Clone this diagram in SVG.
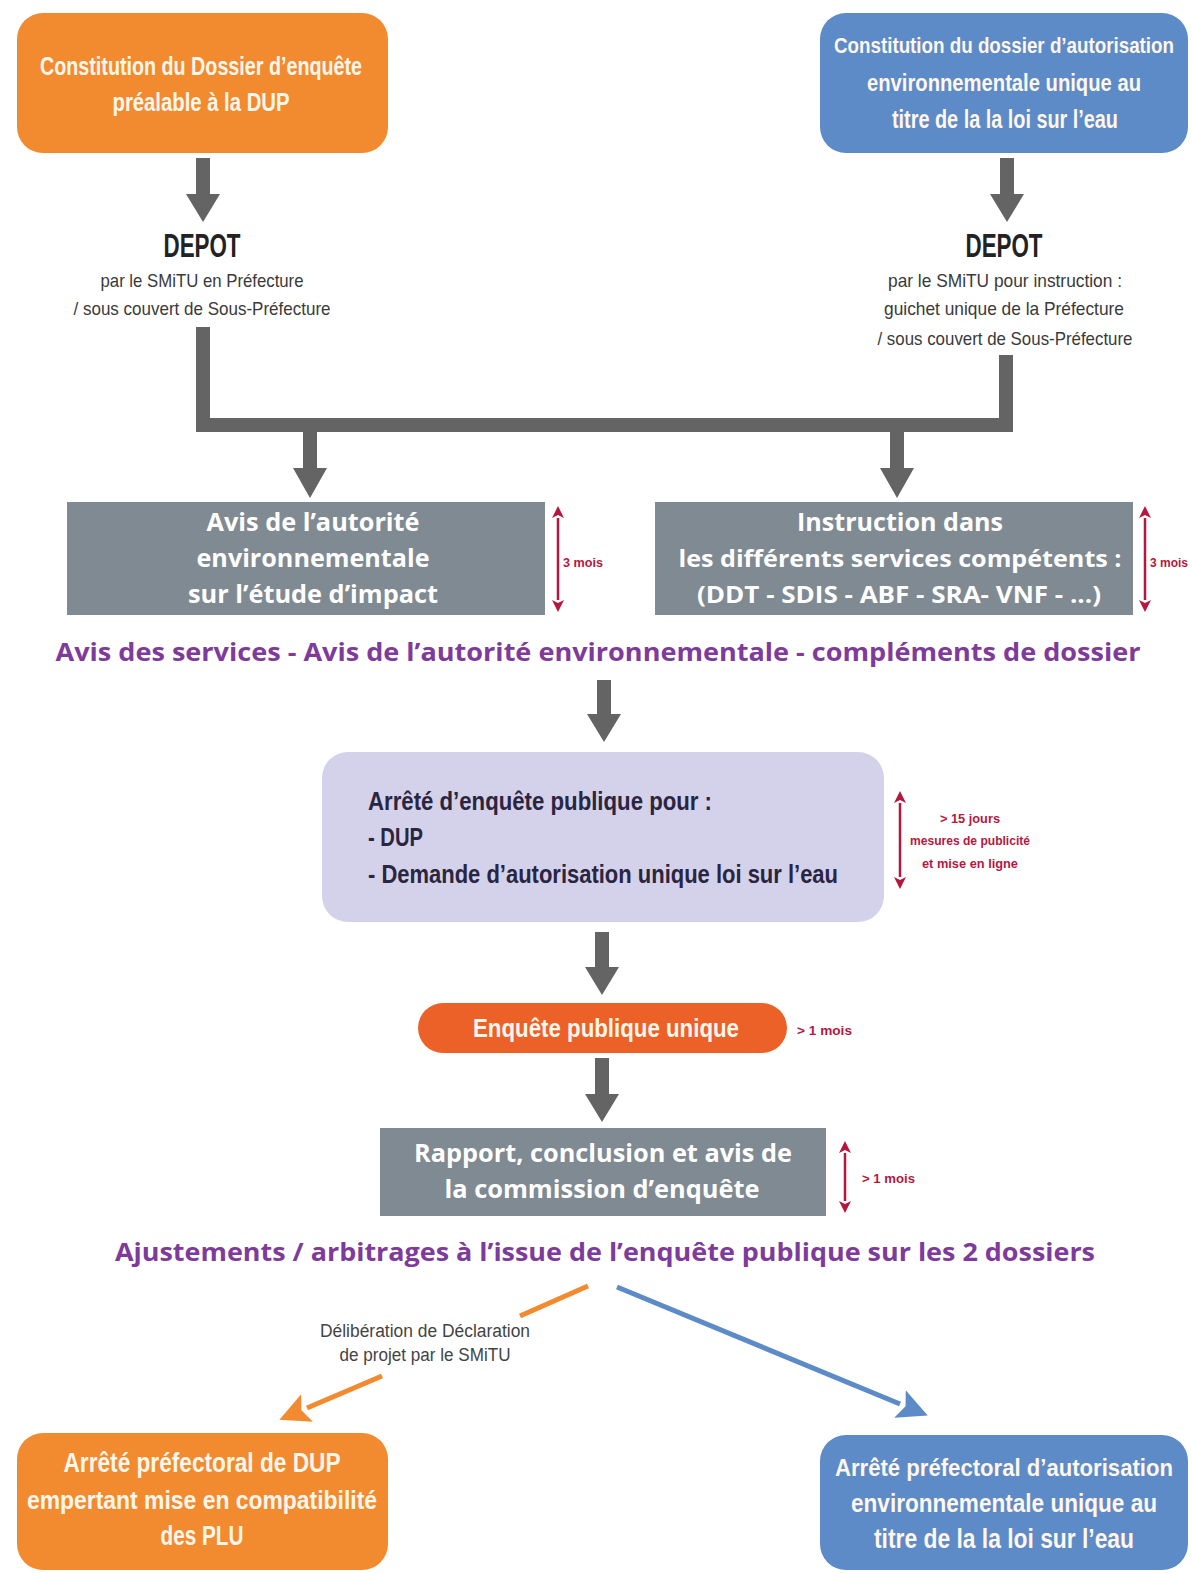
<svg xmlns="http://www.w3.org/2000/svg" width="1192" height="1573" viewBox="0 0 1192 1573">
<style>
.bg{fill:#ffffff}
.orange{fill:#F28B30}
.blue{fill:#5D8BC7}
.grayBox{fill:#7F8A92}
.lav{fill:#D4D1EA}
.pill{fill:#EB6128}
.t{font-family:"Liberation Sans Narrow","Liberation Sans",Arial,sans-serif;font-weight:bold}
.tw{fill:#FFF6EC;text-anchor:middle}
.tg{font-family:"Open Sans","Liberation Sans",Arial,sans-serif;font-weight:bold;fill:#ffffff;text-anchor:middle}
.dep{fill:#222222;text-anchor:middle;font-size:33px}
.sub{fill:#3a3a3a;text-anchor:middle;font-size:19px;font-weight:normal}
.purple{font-family:"Open Sans","Liberation Sans",Arial,sans-serif;font-weight:bold;fill:#7E3B9B;text-anchor:middle;font-size:25px}
.red{fill:#B5173F;font-size:13px}
.dark{fill:#2A2540;font-size:25px}
.gArrow{fill:#646464}
.gLine{fill:none;stroke:#646464;stroke-width:14;stroke-linejoin:miter}
.rLine{stroke:#B5173F;stroke-width:2.5;fill:none}
.lbl{fill:#444444;text-anchor:middle;font-size:18px;font-weight:normal}
</style>
<defs>
<marker id="redHead" viewBox="0 0 12 12" markerWidth="12" markerHeight="12" refX="0" refY="6" orient="auto-start-reverse" markerUnits="userSpaceOnUse">
<path d="M0,0 L12,6 L0,12 L3,6 z" fill="#B5173F"/>
</marker>
<marker id="orHead" viewBox="0 0 30 30" markerWidth="30" markerHeight="30" refX="0" refY="15" orient="auto" markerUnits="userSpaceOnUse">
<path d="M0,0 L30,15 L0,30 L6,15 z" fill="#F28B30"/>
</marker>
<marker id="blHead" viewBox="0 0 30 30" markerWidth="30" markerHeight="30" refX="0" refY="15" orient="auto" markerUnits="userSpaceOnUse">
<path d="M0,0 L30,15 L0,30 L6,15 z" fill="#5D8BC7"/>
</marker>
</defs>
<rect class="bg" x="0" y="0" width="1192" height="1573"/>

<g id="connectors">
<polygon class="gArrow" points="196,158 210,158 210,194 220,194 203,222 186,194 196,194"/>
<polygon class="gArrow" points="1000,158 1014,158 1014,194 1024,194 1007,222 990,194 1000,194"/>
<path class="gLine" d="M203,327 V425 H1006 V355"/>
<polygon class="gArrow" points="303,430 317,430 317,468 327,468 310,498 293,468 303,468"/>
<polygon class="gArrow" points="890,430 904,430 904,468 914,468 897,498 880,468 890,468"/>
<polygon class="gArrow" points="597,680 611,680 611,714 621,714 604,742 587,714 597,714"/>
<polygon class="gArrow" points="595,932 609,932 609,967 619,967 602,995 585,967 595,967"/>
<polygon class="gArrow" points="595,1058 609,1058 609,1094 619,1094 602,1122 585,1094 595,1094"/>
<line x1="588" y1="1286" x2="520" y2="1316" stroke="#F28B30" stroke-width="5"/>
<line x1="382" y1="1376" x2="307" y2="1408" stroke="#F28B30" stroke-width="5" marker-end="url(#orHead)"/>
<line x1="617" y1="1287" x2="900" y2="1404" stroke="#5D8BC7" stroke-width="5" marker-end="url(#blHead)"/>
<line class="rLine" x1="558" y1="518" x2="558" y2="600" marker-start="url(#redHead)" marker-end="url(#redHead)"/>
<line class="rLine" x1="1145" y1="518" x2="1145" y2="600" marker-start="url(#redHead)" marker-end="url(#redHead)"/>
<line class="rLine" x1="900" y1="803" x2="900" y2="877" marker-start="url(#redHead)" marker-end="url(#redHead)"/>
<line class="rLine" x1="845" y1="1153" x2="845" y2="1201" marker-start="url(#redHead)" marker-end="url(#redHead)"/>
</g>

<g id="n-dossier-dup">
<rect class="orange" x="17" y="13" width="371" height="140" rx="26"/>
<text class="t tw" x="201" y="75" font-size="26" textLength="322" lengthAdjust="spacingAndGlyphs">Constitution du Dossier d’enquête</text>
<text class="t tw" x="201" y="111" font-size="26" textLength="177" lengthAdjust="spacingAndGlyphs">préalable à la DUP</text>
</g>

<g id="n-dossier-eau">
<rect class="blue" x="820" y="13" width="368" height="140" rx="26"/>
<text class="t tw" x="1004" y="53" font-size="22" textLength="340" lengthAdjust="spacingAndGlyphs">Constitution du dossier d’autorisation</text>
<text class="t tw" x="1004" y="91" font-size="23" textLength="274" lengthAdjust="spacingAndGlyphs">environnementale unique au</text>
<text class="t tw" x="1005" y="128" font-size="25" textLength="226" lengthAdjust="spacingAndGlyphs">titre de la la loi sur l’eau</text>
</g>

<g id="n-depot-left">
<text class="t dep" x="202" y="257" textLength="77" lengthAdjust="spacingAndGlyphs">DEPOT</text>
<text class="t sub" x="202" y="287" textLength="203" lengthAdjust="spacingAndGlyphs">par le SMiTU en Préfecture</text>
<text class="t sub" x="202" y="315" textLength="257" lengthAdjust="spacingAndGlyphs">/ sous couvert de Sous-Préfecture</text>
</g>

<g id="n-depot-right">
<text class="t dep" x="1004" y="257" textLength="77" lengthAdjust="spacingAndGlyphs">DEPOT</text>
<text class="t sub" x="1005" y="287" textLength="234" lengthAdjust="spacingAndGlyphs">par le SMiTU pour instruction :</text>
<text class="t sub" x="1004" y="315" textLength="240" lengthAdjust="spacingAndGlyphs">guichet unique de la Préfecture</text>
<text class="t sub" x="1005" y="345" textLength="255" lengthAdjust="spacingAndGlyphs">/ sous couvert de Sous-Préfecture</text>
</g>

<g id="n-avis-ae">
<rect class="grayBox" x="67" y="502" width="478" height="113"/>
<text class="tg" x="313" y="531" font-size="25" textLength="213" lengthAdjust="spacingAndGlyphs">Avis de l’autorité</text>
<text class="tg" x="313" y="567" font-size="25" textLength="233" lengthAdjust="spacingAndGlyphs">environnementale</text>
<text class="tg" x="313" y="603" font-size="25" textLength="250" lengthAdjust="spacingAndGlyphs">sur l’étude d’impact</text>
<text class="t red" x="563" y="567" textLength="40" lengthAdjust="spacingAndGlyphs">3 mois</text>
</g>

<g id="n-instruction">
<rect class="grayBox" x="655" y="502" width="478" height="113"/>
<text class="tg" x="900" y="531" font-size="25" textLength="206" lengthAdjust="spacingAndGlyphs">Instruction dans</text>
<text class="tg" x="900" y="567" font-size="24" textLength="443" lengthAdjust="spacingAndGlyphs">les différents services compétents :</text>
<text class="tg" x="899" y="603" font-size="24" textLength="404" lengthAdjust="spacingAndGlyphs">(DDT - SDIS - ABF - SRA- VNF - ...)</text>
<text class="t red" x="1150" y="567" textLength="38" lengthAdjust="spacingAndGlyphs">3 mois</text>
</g>

<g id="n-avis-services">
<text class="purple" x="598" y="661" textLength="1085" lengthAdjust="spacingAndGlyphs">Avis des services - Avis de l’autorité environnementale - compléments de dossier</text>
</g>

<g id="n-arrete-enquete">
<rect class="lav" x="322" y="752" width="562" height="170" rx="26"/>
<text class="t dark" x="368" y="810" textLength="344" lengthAdjust="spacingAndGlyphs">Arrêté d’enquête publique pour :</text>
<text class="t dark" x="368" y="846" textLength="55" lengthAdjust="spacingAndGlyphs">- DUP</text>
<text class="t dark" x="368" y="883" textLength="470" lengthAdjust="spacingAndGlyphs">- Demande d’autorisation unique loi sur l’eau</text>
<text class="t red" x="970" y="823" text-anchor="middle" font-size="13" textLength="60" lengthAdjust="spacingAndGlyphs">&gt; 15 jours</text>
<text class="t red" x="970" y="845" text-anchor="middle" font-size="13" textLength="120" lengthAdjust="spacingAndGlyphs">mesures de publicité</text>
<text class="t red" x="970" y="868" text-anchor="middle" font-size="13" textLength="96" lengthAdjust="spacingAndGlyphs">et mise en ligne</text>
</g>

<g id="n-enquete">
<rect class="pill" x="418" y="1003" width="369" height="50" rx="25"/>
<text class="t tw" x="606" y="1037" font-size="25" textLength="266" lengthAdjust="spacingAndGlyphs">Enquête publique unique</text>
<text class="t red" x="797" y="1035" textLength="55" lengthAdjust="spacingAndGlyphs">&gt; 1 mois</text>
</g>

<g id="n-rapport">
<rect class="grayBox" x="380" y="1128" width="446" height="88"/>
<text class="tg" x="603" y="1162" font-size="25" textLength="378" lengthAdjust="spacingAndGlyphs">Rapport, conclusion et avis de</text>
<text class="tg" x="602" y="1198" font-size="25" textLength="315" lengthAdjust="spacingAndGlyphs">la commission d’enquête</text>
<text class="t red" x="862" y="1183" textLength="53" lengthAdjust="spacingAndGlyphs">&gt; 1 mois</text>
</g>

<g id="n-ajustements">
<text class="purple" x="605" y="1261" textLength="980" lengthAdjust="spacingAndGlyphs">Ajustements / arbitrages à l’issue de l’enquête publique sur les 2 dossiers</text>
</g>

<g id="n-deliberation">
<text class="t lbl" x="425" y="1337" textLength="210" lengthAdjust="spacingAndGlyphs">Délibération de Déclaration</text>
<text class="t lbl" x="425" y="1361" textLength="171" lengthAdjust="spacingAndGlyphs">de projet par le SMiTU</text>
</g>

<g id="n-arrete-dup">
<rect class="orange" x="17" y="1433" width="371" height="137" rx="26"/>
<text class="t tw" x="202" y="1472" font-size="27" textLength="277" lengthAdjust="spacingAndGlyphs">Arrêté préfectoral de DUP</text>
<text class="t tw" x="202" y="1509" font-size="26" textLength="350" lengthAdjust="spacingAndGlyphs">empertant mise en compatibilité</text>
<text class="t tw" x="202" y="1545" font-size="27" textLength="83" lengthAdjust="spacingAndGlyphs">des PLU</text>
</g>

<g id="n-arrete-eau">
<rect class="blue" x="820" y="1435" width="368" height="135" rx="26"/>
<text class="t tw" x="1004" y="1476" font-size="24" textLength="338" lengthAdjust="spacingAndGlyphs">Arrêté préfectoral d’autorisation</text>
<text class="t tw" x="1004" y="1512" font-size="25" textLength="306" lengthAdjust="spacingAndGlyphs">environnementale unique au</text>
<text class="t tw" x="1004" y="1548" font-size="27" textLength="260" lengthAdjust="spacingAndGlyphs">titre de la la loi sur l’eau</text>
</g>
</svg>
